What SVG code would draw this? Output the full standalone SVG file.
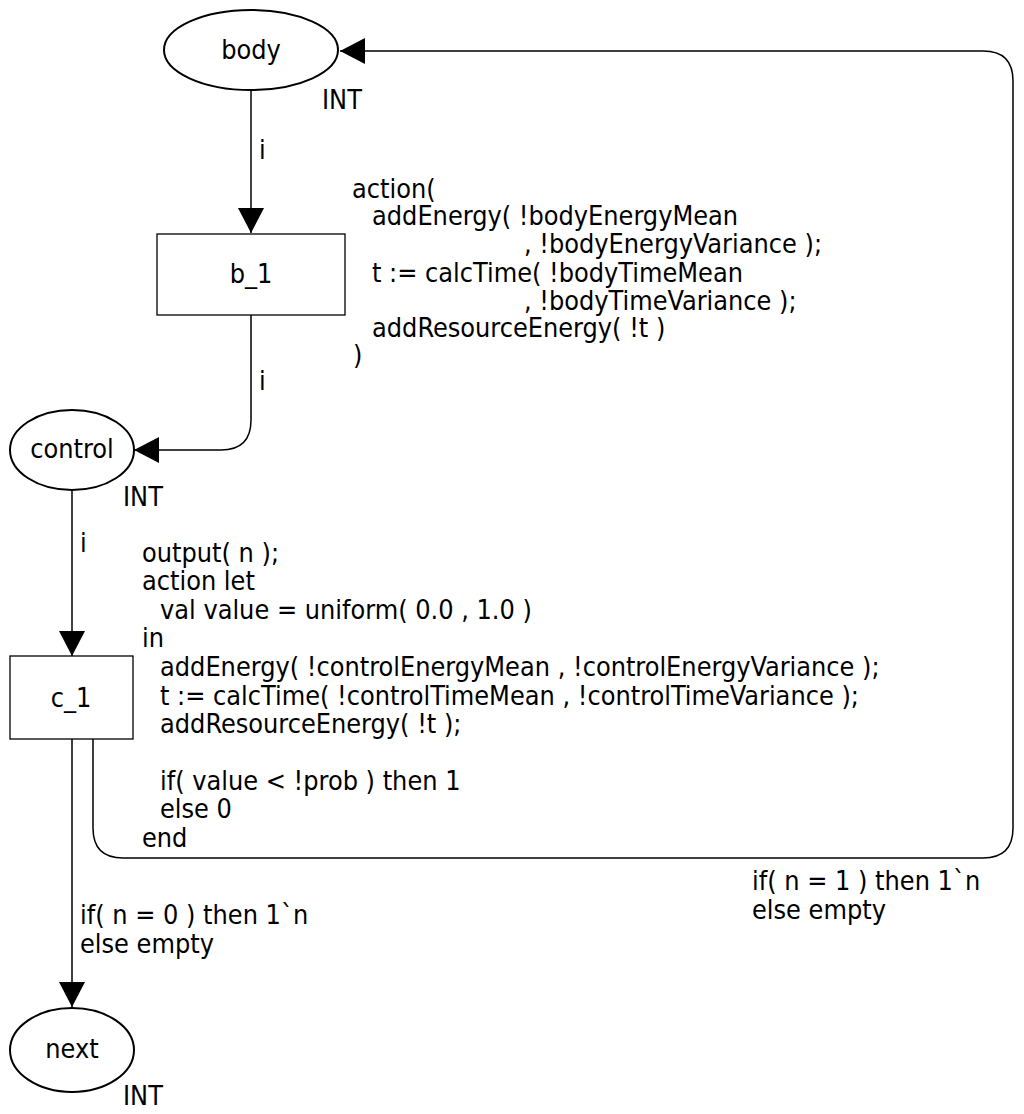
<svg xmlns="http://www.w3.org/2000/svg" width="1024" height="1114" viewBox="0 0 1024 1114">
<style>
text{font-family:"DejaVu Sans Condensed","DejaVu Sans",sans-serif;font-stretch:condensed;font-size:26.8px;fill:#000}
.mid{text-anchor:middle}
.place{fill:#fff;stroke:#000;stroke-width:2}
.trans{fill:#fff;stroke:#000;stroke-width:1.3}
.arc{fill:none;stroke:#000;stroke-width:1.5}
</style>
<defs>
<marker id="ah" viewBox="0 0 25 26" refX="25" refY="13" markerWidth="25" markerHeight="26" markerUnits="userSpaceOnUse" orient="auto">
<path d="M0,0 L25,13 L0,26 Z" fill="#000"/>
</marker>
</defs>
<rect width="1024" height="1114" fill="#fff"/>
<g id="connectors">
<path class="arc" d="M251,90 L251,233" marker-end="url(#ah)"/>
<path class="arc" d="M251,315 L251,420 Q251,450 221,450 L134,450" marker-end="url(#ah)"/>
<path class="arc" d="M72,491 L72,656" marker-end="url(#ah)"/>
<path class="arc" d="M72,739 L72,1007" marker-end="url(#ah)"/>
<path class="arc" d="M93,739 L93,828 Q93,858 123,858 L983,858 Q1013,858 1013,828 L1013,81 Q1013,51 983,51 L340,51" marker-end="url(#ah)"/>
<text x="259" y="159">i</text>
<text x="259" y="390">i</text>
<text x="80" y="552">i</text>
<text x="80" y="924">if( n = 0 ) then 1`n</text>
<text x="80" y="953">else empty</text>
<text x="752" y="890">if( n = 1 ) then 1`n</text>
<text x="752" y="919">else empty</text>
</g>
<g id="body">
<ellipse class="place" cx="251" cy="50" rx="87" ry="40"/>
<text class="mid" x="251" y="59">body</text>
<text x="322" y="109">INT</text>
</g>
<g id="b_1">
<rect class="trans" x="157" y="234" width="188" height="81"/>
<text class="mid" x="251" y="283">b_1</text>
<text x="352" y="198">action(</text>
<text x="372" y="225">addEnergy( !bodyEnergyMean</text>
<text x="524" y="253">, !bodyEnergyVariance );</text>
<text x="372" y="282">t := calcTime( !bodyTimeMean</text>
<text x="524" y="310">, !bodyTimeVariance );</text>
<text x="372" y="337">addResourceEnergy( !t )</text>
<text x="353" y="364">)</text>
</g>
<g id="control">
<ellipse class="place" cx="72" cy="450" rx="62" ry="40"/>
<text class="mid" x="72" y="458">control</text>
<text x="123" y="506">INT</text>
</g>
<g id="c_1">
<rect class="trans" x="10" y="656" width="123" height="83"/>
<text class="mid" x="71" y="707">c_1</text>
<text x="142" y="562">output( n );</text>
<text x="142" y="590">action let</text>
<text x="160" y="619">val value = uniform( 0.0 , 1.0 )</text>
<text x="142" y="647">in</text>
<text x="160" y="676">addEnergy( !controlEnergyMean , !controlEnergyVariance );</text>
<text x="160" y="705">t := calcTime( !controlTimeMean , !controlTimeVariance );</text>
<text x="160" y="733">addResourceEnergy( !t );</text>
<text x="160" y="790">if( value &lt; !prob ) then 1</text>
<text x="160" y="818">else 0</text>
<text x="142" y="847">end</text>
</g>
<g id="next">
<ellipse class="place" cx="72" cy="1050" rx="62" ry="42"/>
<text class="mid" x="72" y="1058">next</text>
<text x="123" y="1105">INT</text>
</g>
</svg>
